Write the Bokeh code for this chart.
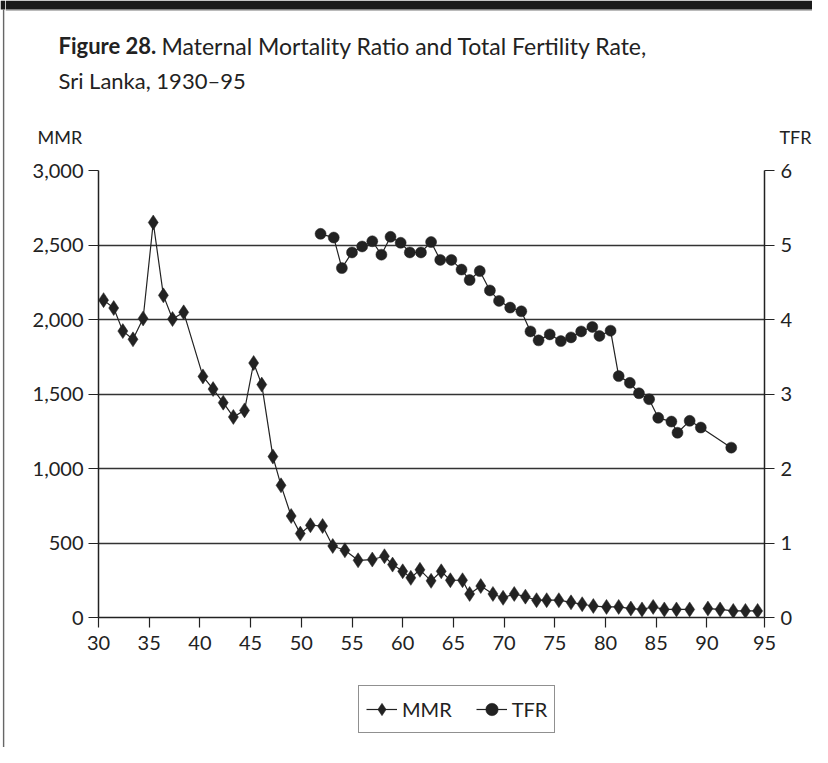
from bokeh.plotting import figure
from bokeh.layouts import row, column
from bokeh.models import (Range1d, LinearAxis, FixedTicker, NumeralTickFormatter,
                          Legend, LegendItem, Grid)
from bokeh.core.properties import value
from bokeh.embed import file_html
from bokeh.resources import INLINE
import math

# ---------------- data ----------------
mmr_year = [30.5, 31.5, 32.4, 33.4, 34.4, 35.4, 36.4, 37.3, 38.4,
            40.3, 41.3, 42.3, 43.3, 44.4, 45.3, 46.1, 47.2, 48.0, 49.0, 49.9,
            50.9, 52.1, 53.1, 54.3, 55.6, 57.0, 58.2, 59.0, 60.0,
            60.8, 61.7, 62.8, 63.8, 64.7, 65.9, 66.6, 67.7, 68.9, 69.9,
            71.0, 72.1, 73.2, 74.2, 75.4, 76.6, 77.7, 78.8, 80.1,
            81.3, 82.5, 83.6, 84.7, 85.8, 87.0, 88.3,
            90.1, 91.3, 92.6, 93.8, 95.0]
mmr_value = [2130, 2077, 1922, 1867, 2007, 2651, 2162, 2003, 2048,
             1618, 1533, 1442, 1346, 1390, 1708, 1563, 1080, 887, 681, 563,
             619, 614, 480, 451, 384, 389, 411, 355, 310,
             266, 320, 246, 310, 250, 250, 158, 211, 158, 132,
             158, 140, 116, 116, 116, 102, 89, 77, 71,
             71, 60, 54, 71, 54, 54, 54,
             60, 54, 44, 44, 44]
mmr_line_breaks_after = [88.3]

tfr_year = [51.9, 53.2, 54.0, 55.0, 56.0, 57.0, 57.9, 58.8, 59.8, 60.7,
            61.8, 62.8, 63.7, 64.8, 65.8, 66.6, 67.6, 68.6, 69.5, 70.6,
            71.7, 72.6, 73.4, 74.5, 75.6, 76.6, 77.6, 78.7, 79.4, 80.5,
            81.3, 82.4, 83.3, 84.3, 85.2, 86.5, 87.1, 88.3, 89.4, 92.4]
tfr_value = [5.15, 5.10, 4.69, 4.90, 4.98, 5.05, 4.87, 5.11, 5.03, 4.90,
             4.90, 5.04, 4.80, 4.80, 4.67, 4.53, 4.65, 4.39, 4.25, 4.16,
             4.11, 3.84, 3.72, 3.80, 3.71, 3.76, 3.84, 3.90, 3.78, 3.85,
             3.24, 3.15, 3.01, 2.93, 2.68, 2.63, 2.48, 2.64, 2.55, 2.28]

x_ticks = [30, 35, 40, 45, 50, 55, 60, 65, 70, 75, 80, 85, 90, 95.68]
x_tick_labels = ["30", "35", "40", "45", "50", "55", "60", "65", "70", "75",
                 "80", "85", "90", "95"]
mmr_ticks = [0, 500, 1000, 1500, 2000, 2500, 3000]
tfr_ticks = [0, 1, 2, 3, 4, 5, 6]

title_bold = "Figure 28."
title_rest = "Maternal Mortality Ratio and Total Fertility Rate,"
title_line2 = "Sri Lanka, 1930\u201395"
left_unit = "MMR"
right_unit = "TFR"
series_names = ["MMR", "TFR"]

# ---------------- styling / layout ----------------
FONT = "Lato"
INK = "#222222"
TOTAL_W, TOTAL_H = 812, 747
STRIP_W = 5                      # thin left page rule
TOP_H = 150                      # header (title + unit labels)
MAIN_BOTTOM = 668                # page y where the chart block ends
MAIN_W = TOTAL_W - STRIP_W
MAIN_H = MAIN_BOTTOM - TOP_H
FOOT_H = TOTAL_H - MAIN_BOTTOM
FRAME_L, FRAME_T, FRAME_W, FRAME_H = 98, 170, 666, 447   # page pixels


def bare(fig):
    fig.outline_line_color = None
    fig.background_fill_color = "white"
    fig.border_fill_color = "white"
    fig.min_border = 0
    fig.frame_align = False
    return fig


# --- left strip with the page rule ---
strip = bare(figure(width=STRIP_W, height=TOTAL_H, output_backend="svg",
                    toolbar_location=None, x_range=Range1d(0, STRIP_W),
                    y_range=Range1d(TOTAL_H, 0), x_axis_type=None, y_axis_type=None))
strip.quad(left=[0], right=[STRIP_W], top=[0], bottom=[9], fill_color="#1a1a1a", line_color=None)
strip.quad(left=[2.4], right=[3.8], top=[9], bottom=[TOTAL_H], fill_color="#666666", line_color=None)

# --- header with the title and the unit labels ---
head = bare(figure(width=MAIN_W, height=TOP_H, output_backend="svg",
                   toolbar_location=None, x_range=Range1d(STRIP_W, TOTAL_W),
                   y_range=Range1d(TOP_H, 0), x_axis_type=None, y_axis_type=None))
head.quad(left=[STRIP_W], right=[TOTAL_W], top=[0], bottom=[9], fill_color="#1a1a1a", line_color=None)
head.quad(left=[STRIP_W], right=[TOTAL_W], top=[9], bottom=[10], fill_color="#777777", line_color=None)


def head_text(txt, x, y, size, bold=False, align="left"):
    head.text(x=[x], y=[y], text=[txt], text_font=value(FONT), text_font_size=size,
              text_font_style="bold" if bold else "normal", text_color=INK,
              text_align=align, text_baseline="alphabetic")


head_text(title_bold, 58, 45, "22px", bold=True)
head_text(title_rest, 161, 45, "23px")
head_text(title_line2, 58, 80, "22px")
head_text(left_unit, 37, 136, "18px")
head_text(right_unit, 811, 136, "18px", align="right")

# --- main chart ---
left_b = FRAME_L - STRIP_W
top_b = FRAME_T - TOP_H
p = bare(figure(width=MAIN_W, height=MAIN_H, output_backend="svg", toolbar_location=None,
                x_range=Range1d(30, 95.68), y_range=Range1d(0, 3000),
                x_axis_type=None, y_axis_type=None))
p.min_border_left = left_b
p.min_border_right = MAIN_W - left_b - FRAME_W
p.min_border_top = top_b
p.min_border_bottom = MAIN_H - top_b - FRAME_H
p.extra_y_ranges = {"tfr": Range1d(0, 6)}


def style_axis(ax, size="20px"):
    ax.axis_line_color = INK
    ax.axis_line_width = 1.5
    ax.major_tick_line_color = INK
    ax.major_tick_line_width = 1.2
    ax.major_tick_in = 0
    ax.major_tick_out = 10
    ax.minor_tick_line_color = None
    ax.major_label_text_font = FONT
    ax.major_label_text_font_size = size
    ax.major_label_text_color = INK


xaxis = LinearAxis(ticker=FixedTicker(ticks=x_ticks),
                   major_label_overrides={t: l for t, l in zip(x_ticks, x_tick_labels)})
style_axis(xaxis)
xaxis.major_label_standoff = 8
p.add_layout(xaxis, "below")

yaxis = LinearAxis(ticker=FixedTicker(ticks=mmr_ticks),
                   formatter=NumeralTickFormatter(format="0,0"))
style_axis(yaxis)
yaxis.major_label_standoff = 5
p.add_layout(yaxis, "left")

y2axis = LinearAxis(y_range_name="tfr", ticker=FixedTicker(ticks=tfr_ticks))
style_axis(y2axis)
y2axis.major_label_standoff = 6
p.add_layout(y2axis, "right")

p.add_layout(Grid(dimension=1, ticker=FixedTicker(ticks=mmr_ticks),
                  grid_line_color="#333333", grid_line_width=1.5))

# ---------------- series ----------------
line_x, line_y = [], []
for xv, yv in zip(mmr_year, mmr_value):
    line_x.append(xv)
    line_y.append(yv)
    if xv in mmr_line_breaks_after:
        line_x.append(math.nan)
        line_y.append(math.nan)

LINE_KW = dict(line_color=INK, line_width=1.2)
MMR_KW = dict(marker="diamond", size=15, fill_color=INK, line_color=INK, line_width=0.5)
TFR_KW = dict(marker="circle", size=11, fill_color=INK, line_color=INK, line_width=0.5)

p.line(line_x, line_y, **LINE_KW)
p.scatter(mmr_year, mmr_value, **MMR_KW)
p.line(tfr_year, tfr_value, y_range_name="tfr", **LINE_KW)
p.scatter(tfr_year, tfr_value, y_range_name="tfr", **TFR_KW)

# --- footer holding the legend (key renderers share the series styles,
#     their single point lies outside the footer's visible range) ---
foot = bare(figure(width=MAIN_W, height=FOOT_H, output_backend="svg", toolbar_location=None,
                   x_range=Range1d(0, 1), y_range=Range1d(0, 1),
                   x_axis_type=None, y_axis_type=None))
k_l1 = foot.line(x=[-5, -4], y=[-5, -5], **LINE_KW)
k_s1 = foot.scatter(x=[-5], y=[-5], **MMR_KW)
k_l2 = foot.line(x=[-5, -4], y=[-5, -5], **LINE_KW)
k_s2 = foot.scatter(x=[-5], y=[-5], **TFR_KW)

legend = Legend(items=[LegendItem(label=series_names[0], renderers=[k_l1, k_s1]),
                       LegendItem(label=series_names[1], renderers=[k_l2, k_s2])],
                orientation="horizontal", location=(358 - STRIP_W, FOOT_H - (733 - MAIN_BOTTOM)))
legend.border_line_color = INK
legend.border_line_width = 1.2
legend.background_fill_color = "white"
legend.background_fill_alpha = 1
legend.padding = 7
legend.spacing = 24
legend.margin = 0
legend.label_standoff = 5
legend.glyph_width = 31
legend.glyph_height = 32
legend.label_height = 32
legend.label_text_font = FONT
legend.label_text_font_size = "20px"
legend.label_text_color = INK
foot.add_layout(legend, "center")

page = row(strip, column(head, p, foot, spacing=0), spacing=0)

open("out.html", "w").write(file_html(page, INLINE))
